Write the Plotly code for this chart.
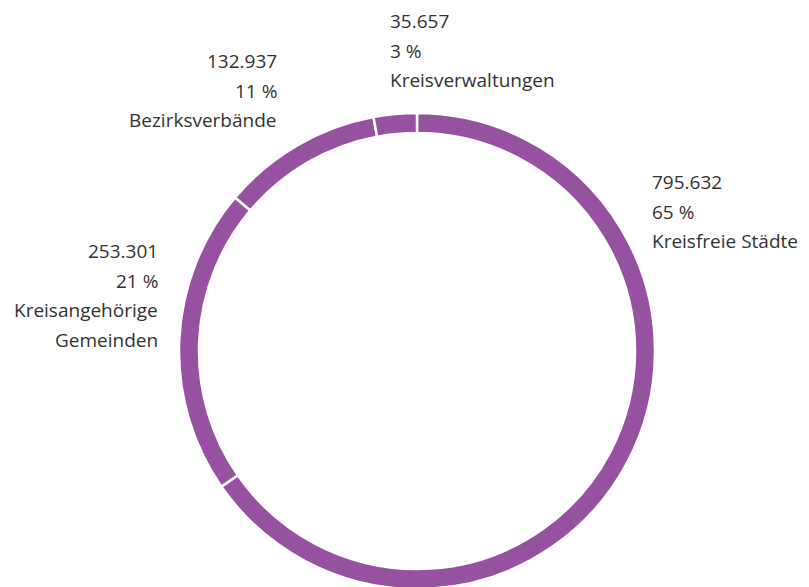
import plotly.graph_objects as go

# Data
categories = ["Kreisfreie Städte", "Kreisangehörige Gemeinden", "Bezirksverbände", "Kreisverwaltungen"]
values = [795632, 253301, 132937, 35657]
label_lines = [["Kreisfreie Städte"], ["Kreisangehörige", "Gemeinden"], ["Bezirksverbände"], ["Kreisverwaltungen"]]

W, H = 809, 587
OFF = 8  # page body margin of the browser
PURPLE = "#9651a1"
TEXT = "#333333"
FONT = "Open Sans"

# label layout: (x px, first line y px, x anchor) in screen pixels
label_pos = [(650, 182, "left"), (160, 251, "right"), (279, 61, "right"), (388, 21, "left")]
LINE_STEP = 29.5

def fx(px):
    return (px - OFF) / W

def fy(py):
    return 1 - (py - OFF) / H

fig = go.Figure(go.Pie(
    labels=categories,
    values=values,
    hole=0.916,
    sort=False,
    direction="clockwise",
    rotation=0,
    textinfo="none",
    hoverinfo="skip",
    marker=dict(colors=[PURPLE] * len(values), line=dict(color="white", width=2.5)),
    domain=dict(x=[fx(179), fx(655)], y=[fy(589), fy(113)]),
    showlegend=False,
))

total = sum(values)
annotations = []
for v, lines, (px, py, anchor) in zip(values, label_lines, label_pos):
    num = f"{v:,}".replace(",", ".")
    pct = f"{round(v / total * 100)} %"
    all_lines = [num, pct] + lines
    for i, t in enumerate(all_lines):
        annotations.append(dict(
            x=fx(px), y=fy(py + i * LINE_STEP),
            xref="paper", yref="paper",
            xanchor=anchor, yanchor="middle",
            text=t, showarrow=False,
            font=dict(family=FONT, size=19, color=TEXT),
        ))

fig.update_layout(
    width=W, height=H,
    margin=dict(l=0, r=0, t=0, b=0),
    paper_bgcolor="white",
    plot_bgcolor="white",
    annotations=annotations,
)

fig.write_html("out.html")
